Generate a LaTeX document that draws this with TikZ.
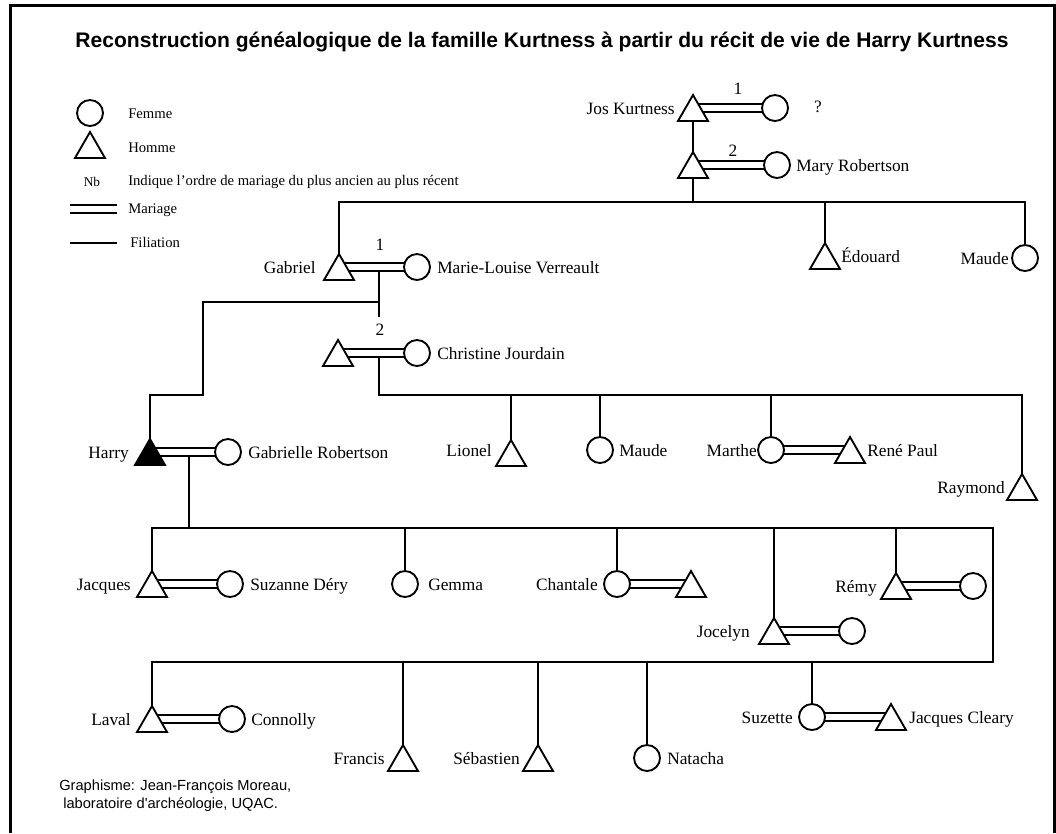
\documentclass[tikz,border=0pt]{standalone}
\usepackage{fontspec}
\setmainfont{Liberation Serif}
\newfontfamily\sansf{Liberation Sans}
\usetikzlibrary{shapes.geometric,calc}
\pgfdeclarelayer{bg}
\pgfdeclarelayer{canvas}
\pgfsetlayers{canvas,bg,main}
\begin{document}
\begin{tikzpicture}[x=0.75pt,y=-0.75pt,
  man/.style={regular polygon, regular polygon sides=3, minimum size=26pt, inner sep=0pt, outer sep=0pt, draw, line width=1.4pt, fill=white, anchor=corner 1},
  woman/.style={circle, minimum size=19.5pt, inner sep=0pt, outer sep=0pt, draw, line width=1.4pt, fill=white},
  nm/.style={font=\fontsize{13pt}{15pt}\selectfont, inner sep=0pt, text height=9pt, text depth=0pt},
  nmr/.style={nm, anchor=east},
  nml/.style={nm, anchor=west},
  lg/.style={font=\fontsize{11pt}{13pt}\selectfont, inner sep=0pt, text height=7.5pt, text depth=0pt, anchor=west},
  fil/.style={line width=1.4pt},
  mar/.style={double, double distance=4.2pt, line width=1.4pt},
  credit/.style={font=\sansf\fontsize{11pt}{13pt}\selectfont, inner sep=0pt, anchor=west}
]
\useasboundingbox (0,0) rectangle (1056,833);
\begin{pgfonlayer}{canvas}
\fill[white] (0,0) rectangle (1056,833);
\end{pgfonlayer}
% frame
\draw[line width=2.4pt] (10.5,833) -- (10.5,5.5) -- (1054.5,5.5) -- (1054.5,833);

% title
\node[font=\sansf\bfseries\fontsize{15.8pt}{18pt}\selectfont, inner sep=0pt] (title) at (542,42) {Reconstruction généalogique de la famille Kurtness à partir du récit de vie de Harry Kurtness};

% legend
\node[woman] (lgf) at (90,113) {};
\node[man] (lgh) at (90,132) {};
\node[lg] (lgft) at (128,113) {Femme};
\node[lg] (lght) at (128,147) {Homme};
\node[lg, anchor=center, font=\fontsize{10pt}{12pt}\selectfont] (lgnb) at (92,181) {Nb};
\node[lg] (lgnbt) at (128,180) {Indique l'ordre de mariage du plus ancien au plus récent};
\coordinate (lgm1) at (70,209); \coordinate (lgm2) at (117,209);
\node[lg] (lgmt) at (128,208) {Mariage};
\coordinate (lgf1) at (70,243); \coordinate (lgf2) at (117,243);
\node[lg] (lgflt) at (130,242) {Filiation};

% generation 1
\node[man] (jos) at (693,95) {};
\node[woman] (jw) at (775,108) {};
\node[nmr] (jost) at (675,108) {Jos Kurtness};
\node[nm] (josq) at (818,106) {?};
\node[nm] (jos1) at (738,88) {1};
\node[man] (jos2) at (693,152) {};
\node[woman] (mary) at (777,165) {};
\node[nml] (maryt) at (796,165) {Mary Robertson};
\node[nm] (jos2n) at (733,150) {2};

% generation 2
\node[man] (gab) at (339,254) {};
\node[nmr] (gabt) at (316,267) {Gabriel};
\node[woman] (ml) at (417,267) {};
\node[nml] (mlt) at (437,267) {Marie-Louise Verreault};
\node[nm] (gab1) at (380,244) {1};
\node[man] (gab2) at (338,340) {};
\node[woman] (chr) at (417,353) {};
\node[nml] (chrt) at (437,353) {Christine Jourdain};
\node[nm] (gab2n) at (380,329) {2};
\node[man] (edou) at (825,243) {};
\node[nml] (edout) at (841,256) {Édouard};
\node[woman] (maude1) at (1025,258) {};
\node[nmr] (maude1t) at (1009,258) {Maude};

% generation 3
\node[man, fill=black] (harry) at (150,439) {};
\node[nmr] (harryt) at (129,452) {Harry};
\node[woman] (gabr) at (228,452) {};
\node[nml] (gabrt) at (248,452) {Gabrielle Robertson};
\node[man] (lion) at (511,440) {};
\node[nmr] (liont) at (492,450) {Lionel};
\node[woman] (maude2) at (600,450) {};
\node[nml] (maude2t) at (619,450) {Maude};
\node[woman] (marthe) at (771,450) {};
\node[nmr] (marthet) at (757,450) {Marthe};
\node[man] (rene) at (850,437) {};
\node[nml] (renet) at (867,450) {René Paul};
\node[man] (raym) at (1022,474) {};
\node[nmr] (raymt) at (1005,487) {Raymond};

% generation 4, row 1
\node[man] (jac) at (152,571) {};
\node[nmr] (jact) at (131,584) {Jacques};
\node[woman] (suz) at (230,584) {};
\node[nml] (suzt) at (250,584) {Suzanne Déry};
\node[woman] (gem) at (405,584) {};
\node[nml] (gemt) at (428,584) {Gemma};
\node[woman] (chan) at (617,584) {};
\node[nmr] (chant) at (598,584) {Chantale};
\node[man] (chansp) at (691,571) {};
\node[man] (joc) at (774,618) {};
\node[nmr] (joct) at (750,631) {Jocelyn};
\node[woman] (jocw) at (852,631) {};
\node[man] (remy) at (896,573) {};
\node[nmr] (remyt) at (877,586) {Rémy};
\node[woman] (remyw) at (973,586) {};

% generation 4, row 2
\node[man] (lav) at (152,706) {};
\node[nmr] (lavt) at (131,719) {Laval};
\node[woman] (con) at (232,719) {};
\node[nml] (cont) at (251,719) {Connolly};
\node[man] (fra) at (403,745) {};
\node[nmr] (frat) at (385,758) {Francis};
\node[man] (seb) at (538,745) {};
\node[nmr] (sebt) at (520,758) {Sébastien};
\node[woman] (nat) at (647,758) {};
\node[nml] (natt) at (667,758) {Natacha};
\node[woman] (suzet) at (812,717) {};
\node[nmr] (suzett) at (793,717) {Suzette};
\node[man] (clea) at (891,704) {};
\node[nml] (cleat) at (909,717) {Jacques Cleary};

% credits
\node[credit] (cr1) at (59,787) {Graphisme: Jean-François Moreau,};
\node[credit] (cr2) at (63,805) {laboratoire d'archéologie, UQAC.};

% connector coordinates
\coordinate (b1L) at (339,202); \coordinate (b1R) at (1025,202);
\coordinate (g1top) at (379,267); \coordinate (g1end) at (379,317);
\coordinate (g1j) at (379,302); \coordinate (hs1) at (203,302);
\coordinate (hs2) at (203,395); \coordinate (hs3) at (150,395);
\coordinate (g2top) at (379,353); \coordinate (g2b) at (379,395);
\coordinate (b2R) at (1022,395);
\coordinate (hm) at (189,452); \coordinate (hb) at (189,528);
\coordinate (r1L) at (152,528); \coordinate (r1R) at (993,528);
\coordinate (r2R) at (993,662); \coordinate (r2L) at (152,662);

\begin{pgfonlayer}{bg}
% filiation
\draw[fil] (lgf1) -- (lgf2);
\draw[fil] (jos) -- (jos2.corner 1);
\draw[fil] (jos2) -- (jos2 |- b1L);
\draw[fil] (gab.corner 1) -- (b1L) -- (b1R) -- (maude1.north);
\draw[fil] (edou.corner 1) -- (edou.corner 1 |- b1L);
\draw[fil] (g1top) -- (g1end);
\draw[fil] (g1j) -- (hs1) -- (hs2) -- (hs3) -- (harry.corner 1);
\draw[fil] (g2top) -- (g2b) -- (b2R) -- (raym.corner 1);
\draw[fil] (lion.corner 1) -- (lion.corner 1 |- g2b);
\draw[fil] (maude2.north) -- (maude2.north |- g2b);
\draw[fil] (marthe.north) -- (marthe.north |- g2b);
\draw[fil] (hm) -- (hb);
\draw[fil] (jac.corner 1) -- (r1L) -- (r1R) -- (r2R) -- (r2L) -- (lav.corner 1);
\draw[fil] (gem.north) -- (gem.north |- r1L);
\draw[fil] (chan.north) -- (chan.north |- r1L);
\draw[fil] (joc.corner 1) -- (joc.corner 1 |- r1L);
\draw[fil] (remy.corner 1) -- (remy.corner 1 |- r1L);
\draw[fil] (fra.corner 1) -- (fra.corner 1 |- r2L);
\draw[fil] (seb.corner 1) -- (seb.corner 1 |- r2L);
\draw[fil] (nat.north) -- (nat.north |- r2L);
\draw[fil] (suzet.north) -- (suzet.north |- r2L);
% marriages
\draw[mar] (lgm1) -- (lgm2);
\draw[mar] (jw -| jos) -- (jw);
\draw[mar] (mary -| jos2) -- (mary);
\draw[mar] (ml -| gab) -- (ml);
\draw[mar] (chr -| gab2) -- (chr);
\draw[mar] (gabr -| harry) -- (gabr);
\draw[mar] (marthe) -- (marthe -| rene);
\draw[mar] (suz -| jac) -- (suz);
\draw[mar] (chan) -- (chan -| chansp);
\draw[mar] (jocw -| joc) -- (jocw);
\draw[mar] (remyw -| remy) -- (remyw);
\draw[mar] (con -| lav) -- (con);
\draw[mar] (suzet) -- (suzet -| clea);
\end{pgfonlayer}
\end{tikzpicture}
\end{document}
